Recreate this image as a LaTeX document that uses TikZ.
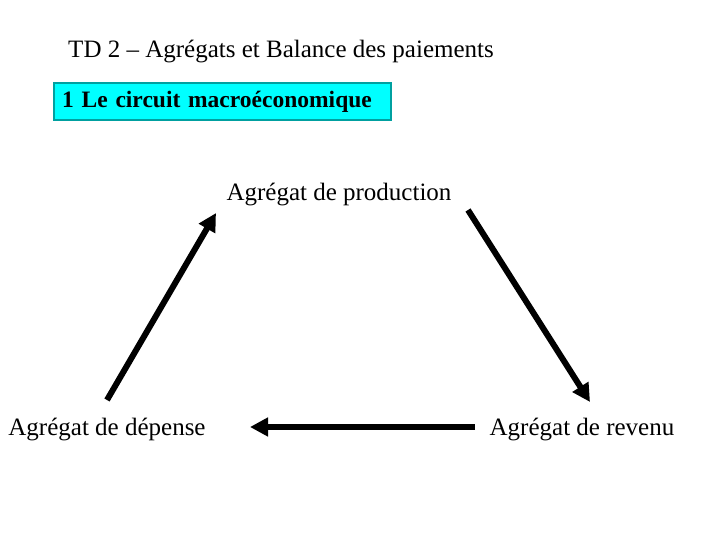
\documentclass[tikz,border=0pt]{standalone}
\usepackage{fontspec}
\setmainfont{Liberation Serif}
\usetikzlibrary{arrows.meta}
\definecolor{boxcyan}{RGB}{0,255,255}
\definecolor{boxedge}{RGB}{0,160,160}

\begin{document}
\begin{tikzpicture}[x=1pt, y=-1pt, >={Triangle[length=18pt, width=18pt]},
    lbl/.style={font=\fontsize{25}{30}\selectfont, inner sep=0pt},
    flow/.style={line width=6pt, ->}]
  \useasboundingbox (0,0) rectangle (720,540);

  % Title and section box
  \node[lbl] (title) at (281,52) {TD 2 -- Agrégats et Balance des paiements};
  \node[lbl, font=\fontsize{23.5}{30}\selectfont\bfseries, anchor=west,
        draw=boxedge, fill=boxcyan, line width=2pt,
        inner xsep=8pt, text width=321pt, minimum height=37pt] (section) at (53,101.5)
        {1 Le circuit macroéconomique};

  % The three aggregates
  \node[lbl] (prod) at (339,195) {Agrégat de production};
  \node[lbl] (dep) at (107,430) {Agrégat de dépense};
  \node[lbl] (rev) at (582,430) {Agrégat de revenu};

  % Arrow ends
  \coordinate (dep-top) at (107,400);
  \coordinate (prod-left) at (216,213);
  \coordinate (prod-right) at (468,210);
  \coordinate (rev-top) at (590,402);
  \coordinate (rev-left) at (475,427);
  \coordinate (dep-right) at (250,427);

  % Circuit
  \draw[flow] (prod-right) -- (rev-top);
  \draw[flow] (rev-left) -- (dep-right);
  \draw[flow] (dep-top) -- (prod-left);
\end{tikzpicture}
\end{document}
